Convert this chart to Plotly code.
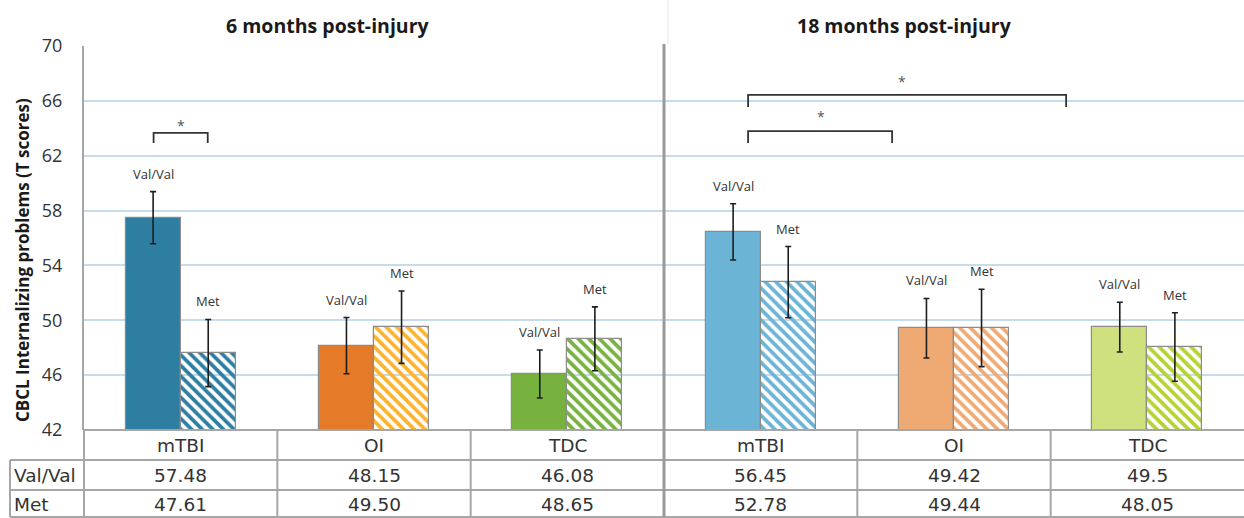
import plotly.graph_objects as go

# ---- data -------------------------------------------------------------
groups = ["mTBI", "OI", "TDC", "mTBI", "OI", "TDC"]
panels = ["6 months post-injury", "18 months post-injury"]
val_text = ["57.48", "48.15", "46.08", "56.45", "49.42", "49.5"]
met_text = ["47.61", "49.50", "48.65", "52.78", "49.44", "48.05"]
val_err = [1.9, 2.05, 1.75, 2.05, 2.17, 1.81]
met_err = [2.45, 2.64, 2.33, 2.6, 2.82, 2.5]
val_vals = [float(s) for s in val_text]
met_vals = [float(s) for s in met_text]

# significance brackets: (x start, x end, bar height, tip height, star x, star y)
brackets = [
    (-0.14, 0.14, 63.66, 62.93, 0.0, 64.45),
    (2.935, 3.68, 63.8, 62.93, 3.31, 65.1),
    (2.935, 4.58, 66.43, 65.55, 3.73, 67.6),
]

# ---- styling ----------------------------------------------------------
val_colors = ["#2E7EA1", "#E57A28", "#77B23F", "#6CB4D6", "#EFAA74", "#CFE07E"]
met_colors = ["#2E7EA1", "#FDB32E", "#77B23F", "#6CB4D6", "#EFAA74", "#B5D334"]
W, H = 1244, 518
BAR_W = 0.285
TEXT = "#333333"
BORDER = "#a6a6a6"
FONT = "Open Sans"
TABLE_FONT = "DejaVu Sans"
TABLE_SIZE = 18.5

xs = list(range(len(groups)))


def px(x):
    return x / W


def py(y):
    return 1 - y / H


def note(**kw):
    base = dict(showarrow=False, xanchor="center", yanchor="middle")
    base.update(kw)
    return base


fig = go.Figure()

fig.add_trace(go.Bar(
    x=xs, y=val_vals, width=BAR_W, offset=-BAR_W, name="Val/Val",
    marker=dict(color=val_colors, line=dict(color="#8c8c8c", width=1.2)),
    error_y=dict(type="data", array=val_err, color="#1e1e1e", thickness=1.6, width=3),
    showlegend=False,
))
fig.add_trace(go.Bar(
    x=xs, y=met_vals, width=BAR_W, offset=0, name="Met",
    marker=dict(
        color=met_colors,
        line=dict(color="#8c8c8c", width=1.2),
        pattern=dict(shape="\\", fgcolor=met_colors, bgcolor="white",
                     size=7.5, solidity=0.5, fillmode="replace"),
    ),
    error_y=dict(type="data", array=met_err, color="#1e1e1e", thickness=1.6, width=3),
    showlegend=False,
))

annotations = []
shapes = []

# genotype labels above each error bar
for i in xs:
    annotations.append(note(x=i - BAR_W / 2, y=val_vals[i] + val_err[i], xref="x", yref="y",
                            text="Val/Val", yanchor="bottom", yshift=7,
                            font=dict(family=FONT, size=13, color=TEXT)))
    annotations.append(note(x=i + BAR_W / 2, y=met_vals[i] + met_err[i], xref="x", yref="y",
                            text="Met", yanchor="bottom", yshift=7,
                            font=dict(family=FONT, size=13, color=TEXT)))

# significance brackets and stars
for x0, x1, yb, yt, sx, sy in brackets:
    shapes.append(dict(type="path", xref="x", yref="y",
                       path=f"M {x0},{yt} L {x0},{yb} L {x1},{yb} L {x1},{yt}",
                       line=dict(color="#333333", width=1.8)))
    annotations.append(note(x=sx, y=sy, xref="x", yref="y", text="*", yshift=-3,
                            font=dict(family=FONT, size=14, color="#555555")))

# panel titles
annotations.append(note(x=px(328), y=py(25), xref="paper", yref="paper", text=f"<b>{panels[0]}</b>",
                        font=dict(family=FONT, size=19.5, color="#1a1a1a")))
annotations.append(note(x=px(904), y=py(25), xref="paper", yref="paper", text=f"<b>{panels[1]}</b>",
                        font=dict(family=FONT, size=19.5, color="#1a1a1a")))

# y-axis title
annotations.append(note(x=px(22), y=py(260), xref="paper", yref="paper",
                        text="<b>CBCL Internalizing problems (T scores)</b>", textangle=-90,
                        font=dict(family=FONT, size=17, color="#1a1a1a")))

# ---- table under the bars ---------------------------------------------
row_y = {"cat": 445, "val": 475, "met": 504}
for i in xs:
    for key, txt in (("cat", groups[i]), ("val", val_text[i]), ("met", met_text[i])):
        annotations.append(note(x=i, y=py(row_y[key]), xref="x", yref="paper", text=txt,
                                font=dict(family=TABLE_FONT, size=TABLE_SIZE, color=TEXT)))
for label, key in (("Val/Val", "val"), ("Met", "met")):
    annotations.append(note(x=px(12), y=py(row_y[key]), xref="paper", yref="paper", text=label,
                            xanchor="left", font=dict(family=TABLE_FONT, size=TABLE_SIZE, color=TEXT)))

# horizontal rules
shapes.append(dict(type="line", xref="paper", yref="paper", x0=px(84), x1=1, y0=py(430), y1=py(430),
                   line=dict(color=BORDER, width=2)))
for yy in (460, 490, 517):
    shapes.append(dict(type="line", xref="paper", yref="paper", x0=px(10), x1=1, y0=py(yy), y1=py(yy),
                       line=dict(color=BORDER, width=2)))
# vertical rules between categories
for xb in (0.5, 1.5, 3.5, 4.5):
    shapes.append(dict(type="line", xref="x", yref="paper", x0=xb, x1=xb, y0=py(430), y1=py(517),
                       line=dict(color=BORDER, width=2)))
shapes.append(dict(type="line", xref="paper", yref="paper", x0=px(10), x1=px(10), y0=py(460), y1=py(517),
                   line=dict(color=BORDER, width=2)))
shapes.append(dict(type="line", xref="paper", yref="paper", x0=px(84), x1=px(84), y0=py(430), y1=py(517),
                   line=dict(color=BORDER, width=2)))
# divider between the two time points
shapes.append(dict(type="line", xref="x", yref="paper", x0=2.5, x1=2.5, y0=py(44), y1=py(518),
                   line=dict(color="#9a9a9a", width=3)))
shapes.append(dict(type="line", xref="x", yref="paper", x0=2.52, x1=2.52, y0=py(0), y1=py(44),
                   line=dict(color="#e6e6e6", width=1)))

fig.update_layout(
    width=W, height=H,
    margin=dict(l=0, r=0, t=0, b=0, autoexpand=False),
    paper_bgcolor="white", plot_bgcolor="white",
    annotations=annotations, shapes=shapes,
    xaxis=dict(domain=[px(84), 1], range=[-0.5, 5.5], showticklabels=False, showgrid=False,
               zeroline=False, showline=False, fixedrange=True, automargin=False),
    yaxis=dict(domain=[py(430), py(46)], range=[42, 70], dtick=4, tick0=42,
               showgrid=True, gridcolor="#c6dcea", gridwidth=1.5, zeroline=False,
               showline=True, linecolor=BORDER, linewidth=2, automargin=False,
               ticks="", ticklabelstandoff=16,
               tickfont=dict(family=FONT, size=18, color="#333333")),
    bargap=0, font=dict(family=FONT),
)

fig.write_html("out.html")
